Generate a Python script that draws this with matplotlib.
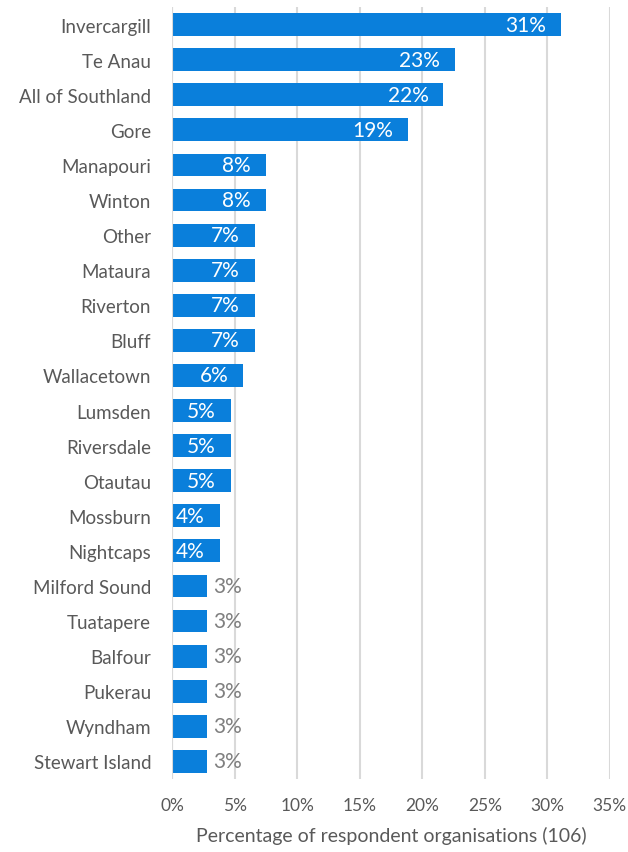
import matplotlib
matplotlib.use('Agg')
import matplotlib.pyplot as plt
from matplotlib.ticker import PercentFormatter
from matplotlib.transforms import offset_copy

plt.rcParams['font.family'] = ['Lato', 'DejaVu Sans']

places = ['Invercargill', 'Te Anau', 'All of Southland', 'Gore', 'Manapouri', 'Winton',
          'Other', 'Mataura', 'Riverton', 'Bluff', 'Wallacetown', 'Lumsden', 'Riversdale',
          'Otautau', 'Mossburn', 'Nightcaps', 'Milford Sound', 'Tuatapere', 'Balfour',
          'Pukerau', 'Wyndham', 'Stewart Island']
# share of 106 organisations
shares = [0.311, 0.226, 0.217, 0.189, 0.075, 0.075, 0.066, 0.066, 0.066, 0.066, 0.057,
          0.047, 0.047, 0.047, 0.038, 0.038, 0.028, 0.028, 0.028, 0.028, 0.028, 0.028]
labels = ['31%', '23%', '22%', '19%', '8%', '8%', '7%', '7%', '7%', '7%', '6%',
          '5%', '5%', '5%', '4%', '4%', '3%', '3%', '3%', '3%', '3%', '3%']
xticks = [0, 0.05, 0.10, 0.15, 0.20, 0.25, 0.30, 0.35]

blue = '#0A7FDB'
grey = '#595959'

fig = plt.figure(figsize=(6.28, 8.53), dpi=100)
ax = fig.add_axes([0.274, 0.0856, 0.697, 0.905])

ypos = list(range(len(places)))
ax.barh(ypos, shares, height=0.65, color=blue, zorder=3)
ax.set_ylim(len(places) - 0.5, -0.5)
ax.set_xlim(0, 0.35)
ax.set_yticks(ypos)
ax.set_yticklabels(places, fontsize=13.5, color=grey)
ax.set_xticks(xticks)
ax.xaxis.set_major_formatter(PercentFormatter(1.0, decimals=0))
ax.tick_params(axis='x', labelsize=12.5, colors=grey, length=0, pad=13)
ax.tick_params(axis='y', length=0, pad=15)
ax.grid(axis='x', color='#D9D9D9', linewidth=1.5, zorder=0)
for s in ax.spines.values():
    s.set_visible(False)
ax.axvline(0, color='#D9D9D9', linewidth=1.5, zorder=4)

for y, v, lab in zip(ypos, shares, labels):
    if v > 0.03:
        tr = offset_copy(ax.transData, fig=fig, x=-15, y=0, units='dots')
        ax.text(v, y, lab, transform=tr, ha='right', va='center', color='white',
                fontsize=15, zorder=5)
    else:
        tr = offset_copy(ax.transData, fig=fig, x=6, y=0, units='dots')
        ax.text(v, y, lab, transform=tr, ha='left', va='center', color='#7F7F7F',
                fontsize=15, zorder=5)

ax.set_xlabel('Percentage of respondent organisations (106)', fontsize=14,
              color=grey, labelpad=9)

fig.savefig('out.png', dpi=100)
